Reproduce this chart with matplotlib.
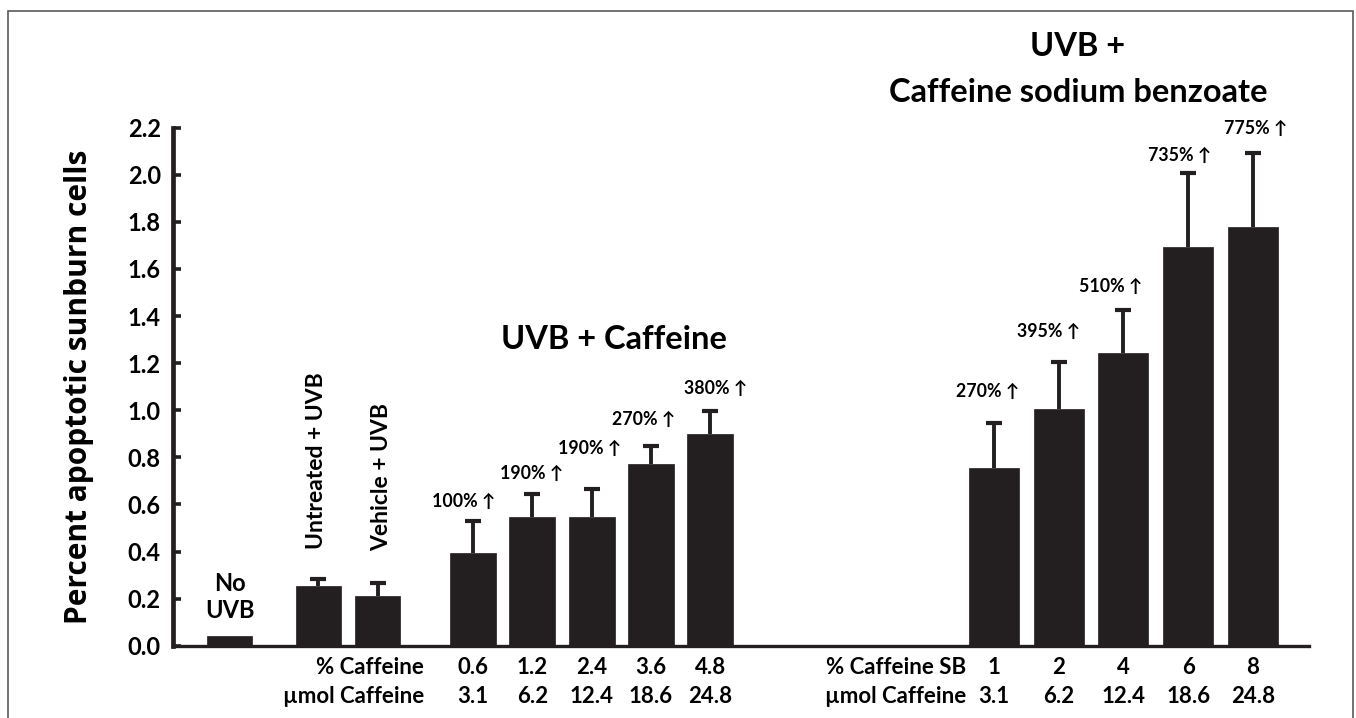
import matplotlib
matplotlib.use("Agg")
import matplotlib.pyplot as plt
import numpy as np
from matplotlib.transforms import Affine2D, blended_transform_factory
from matplotlib.patches import Rectangle

# ---------------- data ----------------
control_labels = ["No\nUVB", "Untreated + UVB", "Vehicle + UVB"]
control_means = [0.04, 0.255, 0.21]
control_err = [0.0, 0.028, 0.055]

caffeine_pct = ["0.6", "1.2", "2.4", "3.6", "4.8"]
caffeine_umol = ["3.1", "6.2", "12.4", "18.6", "24.8"]
caffeine_means = [0.395, 0.545, 0.545, 0.77, 0.90]
caffeine_err = [0.136, 0.098, 0.122, 0.078, 0.098]
caffeine_increase = ["100%", "190%", "190%", "270%", "380%"]

sb_pct = ["1", "2", "4", "6", "8"]
sb_umol = ["3.1", "6.2", "12.4", "18.6", "24.8"]
sb_means = [0.753, 1.005, 1.242, 1.693, 1.778]
sb_err = [0.194, 0.201, 0.182, 0.313, 0.315]
sb_increase = ["270%", "395%", "510%", "735%", "775%"]

yticks = [0.0, 0.2, 0.4, 0.6, 0.8, 1.0, 1.2, 1.4, 1.6, 1.8, 2.0, 2.2]

# ---------------- layout ----------------
W, H = 1356, 718
BAR = "#231f20"
FONT = ["Lato", "DejaVu Sans"]
plt.rcParams["font.family"] = FONT

fig = plt.figure(figsize=(W / 100, H / 100), dpi=100)
ax_l, ax_r, ax_t, ax_b = 173.3, 1309, 127.7, 645.7
ax = fig.add_axes([ax_l / W, 1 - ax_b / H, (ax_r - ax_l) / W, (ax_b - ax_t) / H])
ax.set_xlim(ax_l, ax_r)
ax.set_ylim(0, 2.2)

pix = Affine2D().scale(1 / W, -1 / H).translate(0, 1) + fig.transFigure
xdata_ypix = blended_transform_factory(ax.transData, pix)

x_ctrl = [229.8, 318.2, 377.6]
x_caf = [473.0 + 59.3 * i for i in range(len(caffeine_means))]
x_sb = [994.0 + 64.7 * i for i in range(len(sb_means))]


def draw_group(xs, means, errs, width):
    ax.bar(xs, means, width=width, color=BAR, edgecolor=BAR, linewidth=0.5, zorder=3)
    for x, m, e in zip(xs, means, errs):
        if e > 0:
            _, caps, _ = ax.errorbar([x], [m], yerr=[[0], [e]], fmt="none", ecolor=BAR,
                                     elinewidth=2.8, capsize=5.8, capthick=3.0, zorder=2)
            caps[0].set_visible(False)


draw_group(x_ctrl, control_means, control_err, 45)
draw_group(x_caf, caffeine_means, caffeine_err, 46)
draw_group(x_sb, sb_means, sb_err, 50)

# axes styling
for s in ["top", "right"]:
    ax.spines[s].set_visible(False)
ax.spines["left"].set_linewidth(3.4)
ax.spines["left"].set_color(BAR)
ax.spines["bottom"].set_linewidth(2.4)
ax.spines["bottom"].set_color(BAR)
ax.set_yticks(yticks)
ax.set_yticklabels([f"{v:.1f}" for v in yticks], fontsize=17, fontweight="bold")
ax.tick_params(axis="y", direction="in", length=6, width=2.6, color=BAR, pad=9)
ax.set_xticks([])

fig.text(79 / W, 1 - 387 / H, "Percent apoptotic sunburn cells", rotation=90,
         ha="center", va="center", fontsize=21.5, fontweight="bold",
         family=["Open Sans", "DejaVu Sans"])

# control labels
ax.text(x_ctrl[0], 597, control_labels[0], transform=xdata_ypix, ha="center", va="center",
        fontsize=17, fontweight="bold", linespacing=1.25)
ax.text(x_ctrl[1] - 2, 549, control_labels[1], transform=xdata_ypix, ha="center", va="bottom",
        rotation=90, fontsize=16.5, fontweight="bold")
ax.text(x_ctrl[2] + 4, 551, control_labels[2], transform=xdata_ypix, ha="center", va="bottom",
        rotation=90, fontsize=16.5, fontweight="bold")

# group titles
fig.text(614 / W, 1 - 340 / H, "UVB + Caffeine", ha="center", va="center",
         fontsize=23.5, fontweight="bold")
fig.text(1078 / W, 1 - 47 / H, "UVB +", ha="center", va="center",
         fontsize=23.5, fontweight="bold")
fig.text(1078 / W, 1 - 93 / H, "Caffeine sodium benzoate", ha="center", va="center",
         fontsize=23.5, fontweight="bold")

# increase annotations
caf_lab_dx = [-9, -1, -2, -7, 5]
caf_lab_y = [501.7, 473.3, 448, 419.3, 388.5]
sb_lab_dx = [-6.5, -10, -13, -8.5, 3]
sb_lab_y = [391.7, 331.7, 286.7, 155, 128.3]
for x, dx, y, t in zip(x_caf, caf_lab_dx, caf_lab_y, caffeine_increase):
    ax.text(x + dx, y, t + " \u2191", transform=xdata_ypix, ha="center", va="center",
            fontsize=12.8, fontweight="bold")
for x, dx, y, t in zip(x_sb, sb_lab_dx, sb_lab_y, sb_increase):
    ax.text(x + dx, y, t + " \u2191", transform=xdata_ypix, ha="center", va="center",
            fontsize=12.8, fontweight="bold")

# dose rows
row1, row2 = 667.5, 696.5
ax.text(424, row1, "% Caffeine", transform=xdata_ypix, ha="right", va="center",
        fontsize=16, fontweight="bold")
ax.text(424, row2, "\u00b5mol Caffeine", transform=xdata_ypix, ha="right", va="center",
        fontsize=16, fontweight="bold")
ax.text(966, row1, "% Caffeine SB", transform=xdata_ypix, ha="right", va="center",
        fontsize=16, fontweight="bold")
ax.text(966, row2, "\u00b5mol Caffeine", transform=xdata_ypix, ha="right", va="center",
        fontsize=16, fontweight="bold")
for x, a, b in zip(x_caf, caffeine_pct, caffeine_umol):
    ax.text(x, row1, a, transform=xdata_ypix, ha="center", va="center", fontsize=16, fontweight="bold")
    ax.text(x, row2, b, transform=xdata_ypix, ha="center", va="center", fontsize=16, fontweight="bold")
for x, a, b in zip(x_sb, sb_pct, sb_umol):
    ax.text(x, row1, a, transform=xdata_ypix, ha="center", va="center", fontsize=16, fontweight="bold")
    ax.text(x, row2, b, transform=xdata_ypix, ha="center", va="center", fontsize=16, fontweight="bold")

# outer frame
fig.patches.append(Rectangle((8 / W, -0.05), (1353.3 - 8) / W, 1.05 - 10.7 / H,
                             transform=fig.transFigure, fill=False,
                             edgecolor="#5a5a5a", linewidth=1.2))

fig.savefig("out.png", dpi=100)
